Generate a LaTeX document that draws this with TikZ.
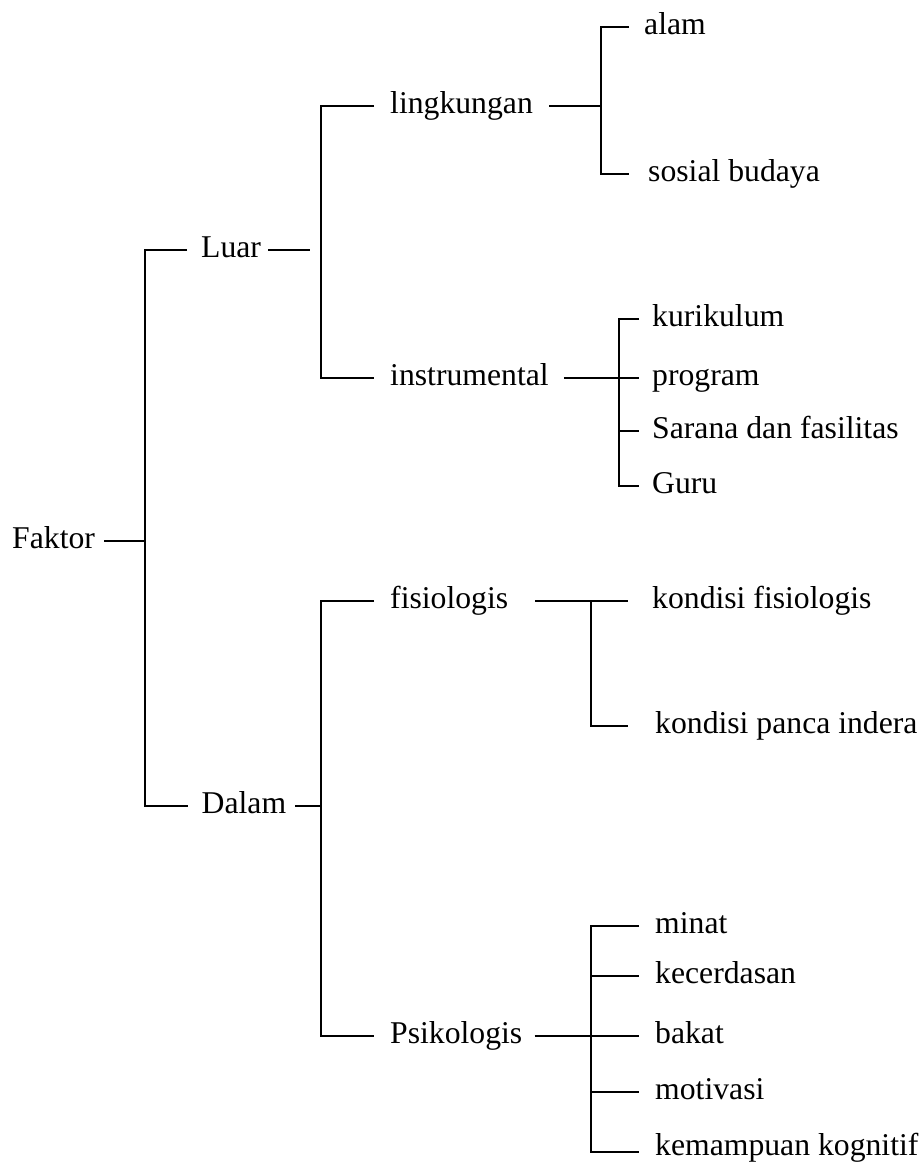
\documentclass[tikz,border=0pt]{standalone}
\usepackage{fontspec}
\setmainfont{Liberation Serif}

\begin{document}
\begin{tikzpicture}[x=1pt, y=-1pt,
    every node/.style={font=\fontsize{31.7}{38}\selectfont},
    item/.style={anchor=west, inner sep=0pt, text height=19pt, text depth=4pt},
    branch/.style={line width=2.3pt}]

    \useasboundingbox (0,0) rectangle (923,1163);

    % root and first level
    \node[item] (faktor) at (12,540.7) {Faktor};
    \node[item] (luar) at (201,250) {Luar};
    \node[item] (dalam) at (201.5,805.7) {Dalam};

    % second level
    \node[item] (lingk) at (390,106) {lingkungan};
    \node[item] (instr) at (390,377.7) {instrumental};
    \node[item] (fisio) at (390,601) {fisiologis};
    \node[item] (psiko) at (390,1035.7) {Psikologis};

    % leaves
    \node[item] (alam) at (644,27.3) {alam};
    \node[item] (sosial) at (648,174) {sosial budaya};
    \node[item] (kuri) at (652,319.3) {kurikulum};
    \node[item] (prog) at (652,377.7) {program};
    \node[item] (sarana) at (652,431) {Sarana dan fasilitas};
    \node[item] (guru) at (652,485.7) {Guru};
    \node[item] (kfis) at (652,601) {kondisi fisiologis};
    \node[item] (kpanca) at (655,725.7) {kondisi panca indera};
    \node[item] (minat) at (655,925.7) {minat};
    \node[item] (kecer) at (655,975.7) {kecerdasan};
    \node[item] (bakat) at (655,1035.7) {bakat};
    \node[item] (motiv) at (655,1091.7) {motivasi};
    \node[item, text height=6pt, text depth=0pt] (kemamp) at (655,1152) {kemampuan kognitif};

    \coordinate (b0) at (145,540.7);
    \coordinate (b1) at (320.7,250);
    \coordinate (b2) at (320.7,805.7);
    \coordinate (b3) at (600.7,106);
    \coordinate (b4) at (619.3,377.7);
    \coordinate (b5) at (590.7,601);
    \coordinate (b6) at (591,1035.7);

    \draw[branch, shorten <=9pt] (faktor) -- (b0);
    \draw[branch, shorten <=14pt, shorten >=14pt] (luar) -| (b0) |- (dalam);

    \draw[branch, shorten <=7pt, shorten >=11pt] (luar) -- (b1);
    \draw[branch, shorten <=16pt, shorten >=16pt] (lingk) -| (b1) |- (instr);
    \draw[branch, shorten <=9pt] (dalam) -- (b2);
    \draw[branch, shorten <=16pt, shorten >=16pt] (fisio) -| (b2) |- (psiko);

    \draw[branch, shorten <=16pt] (lingk) -- (b3);
    \draw[branch, shorten <=15pt, shorten >=19pt] (alam) -| (b3) |- (sosial);

    \draw[branch, shorten <=15pt, shorten >=13pt] (instr) -- (prog);
    \draw[branch, shorten <=13pt, shorten >=13pt] (kuri) -| (b4) |- (guru);
    \draw[branch, shorten >=13pt] (b4 |- sarana) -- (sarana);

    \draw[branch, shorten <=27pt, shorten >=24pt] (fisio) -- (kfis);
    \draw[branch, shorten >=27pt] (b5) |- (kpanca);

    \draw[branch, shorten <=12pt, shorten >=16pt] (psiko) -- (bakat);
    \draw[branch, shorten <=16pt, shorten >=16pt] (minat) -| (b6) |- (kemamp);
    \foreach \n in {kecer, motiv}
        \draw[branch, shorten >=16pt] (b6 |- \n) -- (\n);

\end{tikzpicture}
\end{document}
